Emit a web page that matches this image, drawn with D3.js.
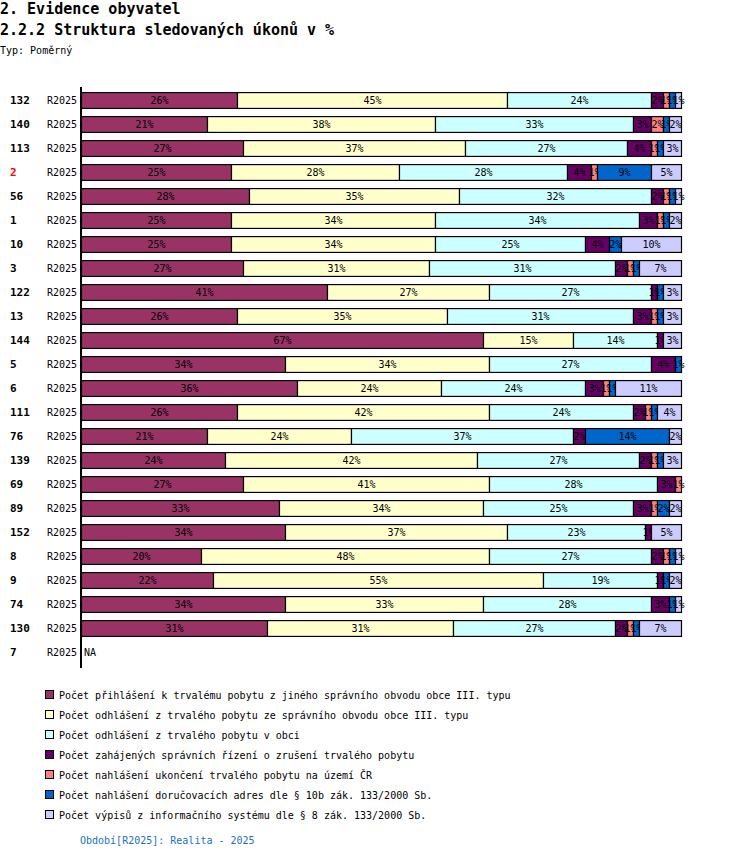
<!DOCTYPE html>
<html><head><meta charset="utf-8">
<script src="https://cdn.jsdelivr.net/npm/d3@7"></script>
<style>body{margin:0;background:#fff}svg{display:block}</style>
</head><body>
<script>
const categories = ["132","140","113","2","56","1","10","3","122","13","144","5","6","111","76","139","69","89","152","8","9","74","130","7"];
const periods = ["R2025","R2025","R2025","R2025","R2025","R2025","R2025","R2025","R2025","R2025","R2025","R2025","R2025","R2025","R2025","R2025","R2025","R2025","R2025","R2025","R2025","R2025","R2025","R2025"];
const highlight = "2";
const seriesNames = [
  "Počet přihlášení k trvalému pobytu z jiného správního obvodu obce III. typu",
  "Počet odhlášení z trvalého pobytu ze správního obvodu obce III. typu",
  "Počet odhlášení z trvalého pobytu v obci",
  "Počet zahájených správních řízení o zrušení trvalého pobytu",
  "Počet nahlášení ukončení trvalého pobytu na území ČR",
  "Počet nahlášení doručovacích adres dle § 10b zák. 133/2000 Sb.",
  "Počet výpisů z informačního systému dle § 8 zák. 133/2000 Sb."
];
const colors = ["#993366","#ffffcc","#ccffff","#660066","#ff8080","#0066cc","#ccccff"];
const s1 = [26,21,27,25,28,25,25,27,41,26,67,34,36,26,21,24,27,33,34,20,22,34,31,null];
const s2 = [45,38,37,28,35,34,34,31,27,35,15,34,24,42,24,42,41,34,37,48,55,33,31,null];
const s3 = [24,33,27,28,32,34,25,31,27,31,14,27,24,24,37,27,28,25,23,27,19,28,27,null];
const s4 = [2,3,4,4,2,3,4,2,1,3,1,4,3,2,2,2,3,3,1,2,1,3,2,null];
const s5 = [1,2,1,1,1,1,0,1,0,1,0,0,1,1,0,1,1,1,0,1,0,0,1,null];
const s6 = [1,1,1,9,1,1,2,1,1,1,0,1,1,1,14,1,0,2,0,1,1,1,1,null];
const s7 = [1,2,3,5,1,2,10,7,3,3,3,0,11,4,2,3,0,2,5,1,2,1,7,null];
const series = [s1,s2,s3,s4,s5,s6,s7];
const footer = "Období[R2025]: Realita - 2025";

const W = 750, H = 858;
const svg = d3.select("body").append("svg").attr("width", W).attr("height", H);
const mono = "'DejaVu Sans Mono', monospace";

svg.append("text").attr("x",0).attr("y",14).attr("font-family",mono).attr("font-size",15).attr("font-weight","bold").text("2. Evidence obyvatel");
svg.append("text").attr("x",0).attr("y",35).attr("font-family",mono).attr("font-size",15).attr("font-weight","bold").text("2.2.2 Struktura sledovaných úkonů v %");
svg.append("text").attr("x",0).attr("y",54).attr("font-family",mono).attr("font-size",10).text("Typ: Poměrný");

const x = d3.scaleLinear().domain([0,100]).range([81,681]);
const y = d3.scaleBand().domain(categories).range([88,664]).paddingInner(0.34).paddingOuter(0.17);

// axis line
svg.append("line").attr("x1",81).attr("x2",81).attr("y1",87).attr("y2",668).attr("stroke","#000").attr("stroke-width",2);

categories.forEach((c,i)=>{
  const yc = y(c) + y.bandwidth()/2;
  svg.append("text").attr("x",10).attr("y",yc+4).attr("font-family",mono).attr("font-size",11).attr("font-weight","bold")
    .attr("fill", c===highlight ? "#ff0000" : "#000").text(c);
  svg.append("text").attr("x",47).attr("y",yc+4).attr("font-family",mono).attr("font-size",10).text(periods[i]);
  if (s1[i] === null) {
    svg.append("text").attr("x",84).attr("y",yc+4).attr("font-family",mono).attr("font-size",10).text("NA");
    return;
  }
  let acc = 0;
  const g = svg.append("g");
  series.forEach((s,k)=>{
    const v = s[i];
    if (!v) return;
    const x0 = x(acc), x1 = x(acc+v);
    g.append("rect").attr("x",x0+0.5).attr("y",y(c)+0.5).attr("width",x1-x0).attr("height",y.bandwidth())
      .attr("fill",colors[k]).attr("stroke","#000").attr("stroke-width",1.2);
    g.append("text").attr("x",(x0+x1)/2+0.5).attr("y",yc+4).attr("text-anchor","middle")
      .attr("font-family",mono).attr("font-size",10).attr("fill","#000").text(v+"%");
    acc += v;
  });
});

// legend
seriesNames.forEach((n,k)=>{
  const ly = 695 + k*20;
  svg.append("rect").attr("x",45.5).attr("y",ly-4.5).attr("width",8).attr("height",8).attr("fill",colors[k]).attr("stroke","#000").attr("stroke-width",1);
  svg.append("text").attr("x",59).attr("y",ly+4).attr("font-family",mono).attr("font-size",10).text(n);
});
svg.append("text").attr("x",80).attr("y",844).attr("font-family",mono).attr("font-size",10).attr("fill","#1a72bb").text(footer);
</script>
</body></html>
